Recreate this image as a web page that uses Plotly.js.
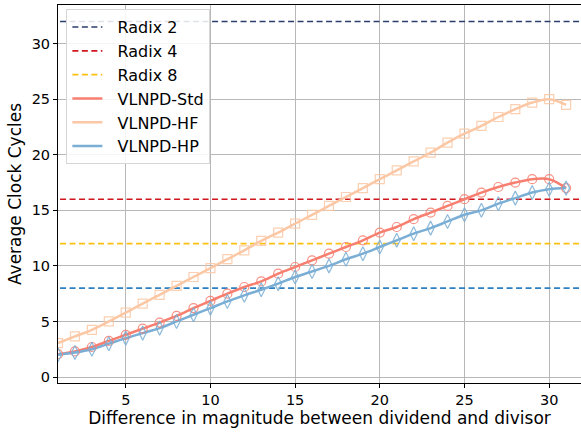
<!DOCTYPE html>
<html>
<head>
<meta charset="utf-8">
<script src="https://cdn.plot.ly/plotly-3.0.1.min.js"></script>
<style>html,body{margin:0;padding:0;background:#fff;}#chart{width:581px;height:434px;}</style>
</head>
<body>
<div id="chart"></div>
<script>
// ---- data ----
const xVals = [1,2,3,4,5,6,7,8,9,10,11,12,13,14,15,16,17,18,19,20,21,22,23,24,25,26,27,28,29,30,31];
const stdVals = [2.05,2.3,2.7,3.25,3.8,4.35,4.9,5.5,6.2,6.85,7.5,8.1,8.6,9.3,9.9,10.5,11.1,11.7,12.3,13.0,13.5,14.2,14.8,15.4,16.0,16.6,17.1,17.5,17.8,17.8,17.0];
const hfVals = [3.05,3.65,4.25,5.0,5.8,6.6,7.4,8.2,9.0,9.8,10.6,11.4,12.25,13.0,13.8,14.6,15.4,16.2,17.0,17.8,18.6,19.4,20.2,21.1,21.9,22.6,23.4,24.1,24.7,25.0,24.5];
const hpVals = [2.0,2.2,2.5,3.0,3.5,3.95,4.4,5.0,5.6,6.2,6.8,7.35,7.85,8.4,9.0,9.5,10.0,10.6,11.1,11.7,12.3,12.9,13.4,14.0,14.6,15.0,15.6,16.1,16.6,16.9,17.0];
const radixNames = ["Radix 2","Radix 4","Radix 8"];
const radixVals = [32,16,12];
const extraRefVal = 8;
const xTicks = [5,10,15,20,25,30];
const yTicks = [0,5,10,15,20,25,30];

const xRange = [1, 31.88];
const yRange = [-0.54, 33.48];

const pad = '\u00a0\u00a0';
const radixColors = ["#2b3f6c","#d0161e","#fbc011"];
const traces = [];
radixNames.forEach((n,i)=>{
  traces.push({x:[xRange[0]-1,xRange[1]+1], y:[radixVals[i],radixVals[i]], name:pad+n, mode:'lines',
    line:{color:radixColors[i], width:1.6, dash:'6px,3.5px'}});
});
traces.push({x:[xRange[0]-1,xRange[1]+1], y:[extraRefVal,extraRefVal], mode:'lines', showlegend:false,
  line:{color:'#2c7fc0', width:1.6, dash:'6px,3.5px'}, hoverinfo:'skip'});

const series = [
  {name:'VLNPD-Std', y:stdVals, color:'#f77f70', sym:'circle-open', size:9},
  {name:'VLNPD-HF', y:hfVals, color:'#fbc7a4', sym:'square-open', size:9},
  {name:'VLNPD-HP', y:hpVals, color:'#7aaed5', sym:'diamond-tall-open', size:10}
];
series.forEach((s,i)=>{
  traces.push({x:xVals, y:s.y, name:pad+s.name, mode:'lines', line:{color:s.color, width:2.5, shape:'spline', smoothing:1}});
});
series.forEach(s=>{
  traces.push({x:xVals, y:s.y, mode:'markers', showlegend:false, opacity:0.85,
    marker:{symbol:s.sym, size:s.size, color:s.color, line:{color:s.color, width:1.2}}});
});

const layout = {
  width:581, height:434,
  margin:{l:58, r:0, t:5, b:51},
  paper_bgcolor:'#fff', plot_bgcolor:'#fff',
  font:{family:'DejaVu Sans', size:14.5, color:'#000'},
  showlegend:true,
  legend:{x:0.016, y:0.989, xanchor:'left', yanchor:'top', bgcolor:'rgba(255,255,255,0.85)',
    bordercolor:'#d6d6d6', borderwidth:1, font:{size:16, family:'DejaVu Sans'},
    itemwidth:30},
  xaxis:{range:xRange, tickvals:xTicks, ticks:'outside', ticklen:4, tickcolor:'#000',
    showgrid:true, gridcolor:'#b8b8b8', gridwidth:1, zeroline:false,
    showline:true, linecolor:'#000', linewidth:1, mirror:true,
    title:{text:'Difference in magnitude between dividend and divisor', font:{size:17}, standoff:3},
    tickfont:{size:14.5}},
  yaxis:{range:yRange, tickvals:yTicks, ticks:'outside', ticklen:4, tickcolor:'#000',
    showgrid:true, gridcolor:'#b8b8b8', gridwidth:1, zeroline:false,
    showline:true, linecolor:'#000', linewidth:1,
    title:{text:'Average Clock Cycles', font:{size:17}, standoff:5},
    tickfont:{size:14.5}}
};
Plotly.newPlot('chart', traces, layout, {displayModeBar:false, staticPlot:true});
</script>
</body>
</html>
